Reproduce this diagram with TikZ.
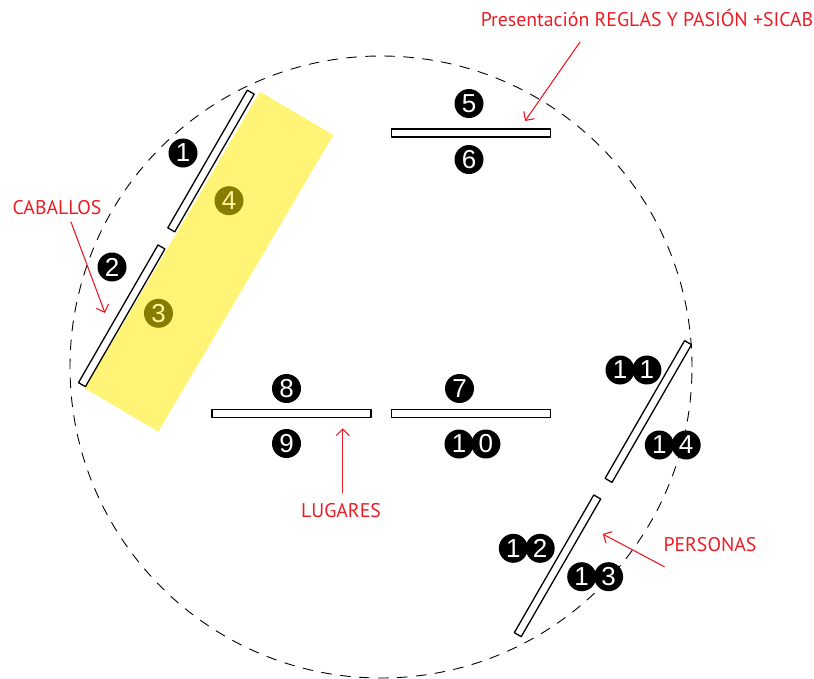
\documentclass[tikz,border=0pt]{standalone}
\usepackage{fontspec}
\setmainfont{PT Sans}
\newfontfamily\cifras{Liberation Sans}
\usetikzlibrary{arrows.meta,positioning}
\definecolor{rojo}{RGB}{237,28,36}
\definecolor{amarillo}{RGB}{255,244,117}
\definecolor{oliva}{RGB}{133,124,0}
\definecolor{claro}{RGB}{255,246,160}
\begin{document}
\begin{tikzpicture}[x=1pt,y=-1pt,line join=round,line cap=round,
	barra/.style={draw,fill=white,line width=1.3pt,minimum width=159pt,minimum height=8pt,inner sep=0pt,rotate=#1},
	barra/.default=0,
	num/.style={circle,fill=black,text=white,minimum size=29pt,inner sep=0pt,font=\cifras\fontsize{26}{26}\selectfont},
	numy/.style={num,fill=oliva,text=claro},
	rotulo/.style={text=rojo,inner sep=0pt,font=\fontsize{19.8}{21}\selectfont},
	flecha/.style={draw=rojo,line width=1.1pt,-{Straight Barb[length=6.5pt,width=13pt]}}]
	\useasboundingbox (0,0) rectangle (814,678);
	%Pista
	\draw[line width=0.9pt,dash pattern=on 10pt off 9pt](381,367)circle[radius=311pt];
	\fill[amarillo](260,91.7)--(333.3,135)--(158.3,431.7)--(85,388.3)--cycle;
	\node[barra=60](b1)at(211,161){};
	\node[barra=60](b2)at(121.7,315.8){};
	\node[barra](b5)at(471,133){};
	\node[barra](b8)at(291.5,413.5){};
	\node[barra](b7)at(471,413.5){};
	\node[barra=60](b11)at(648.3,411.5){};
	\node[barra=60](b12)at(557.5,565.8){};
	\foreach \n/\x/\y in {1/183/153,2/112/267,5/469/103.5,6/469/159.5,7/459.5/388.5,8/286.5/388.5,9/286.5/443.5}
	\node[num](n\n)at(\x,\y){\n};
	\foreach \n/\x/\y in {3/158.5/313.3,4/229/200.7}
	\node[numy](n\n)at(\x,\y){\n};
	\foreach \n/\a/\b/\x/\y in {10/1/0/459/444,11/1/1/620/370,12/1/2/513.3/548.3,13/1/3/581.7/576.7,14/1/4/659.3/445}{
		\node[num](a\n)at(\x,\y){\a};
		\node[num,right=-2.5pt of a\n](b\n){\b};}
	%Rotulos
	\node[rotulo](pres)at(647,18){Presentación REGLAS Y PASIÓN +SICAB};
	\node[rotulo](cab)at(57,208){CABALLOS};
	\node[rotulo](lug)at(341,511){LUGARES};
	\node[rotulo](per)at(710,545){PERSONAS};
	\coordinate(spres)at(580,42);\coordinate(tpres)at(525,121);
	\coordinate(scab)at(71,222);\coordinate(tcab)at(105,313);
	\coordinate(slug)at(342.7,493);\coordinate(tlug)at(342.7,428.3);
	\coordinate(sper)at(664.3,566.7);\coordinate(tper)at(602.7,534);
	\foreach \f in {pres,cab,lug,per}
	\draw[flecha](s\f)--(t\f);
\end{tikzpicture}
\end{document}
